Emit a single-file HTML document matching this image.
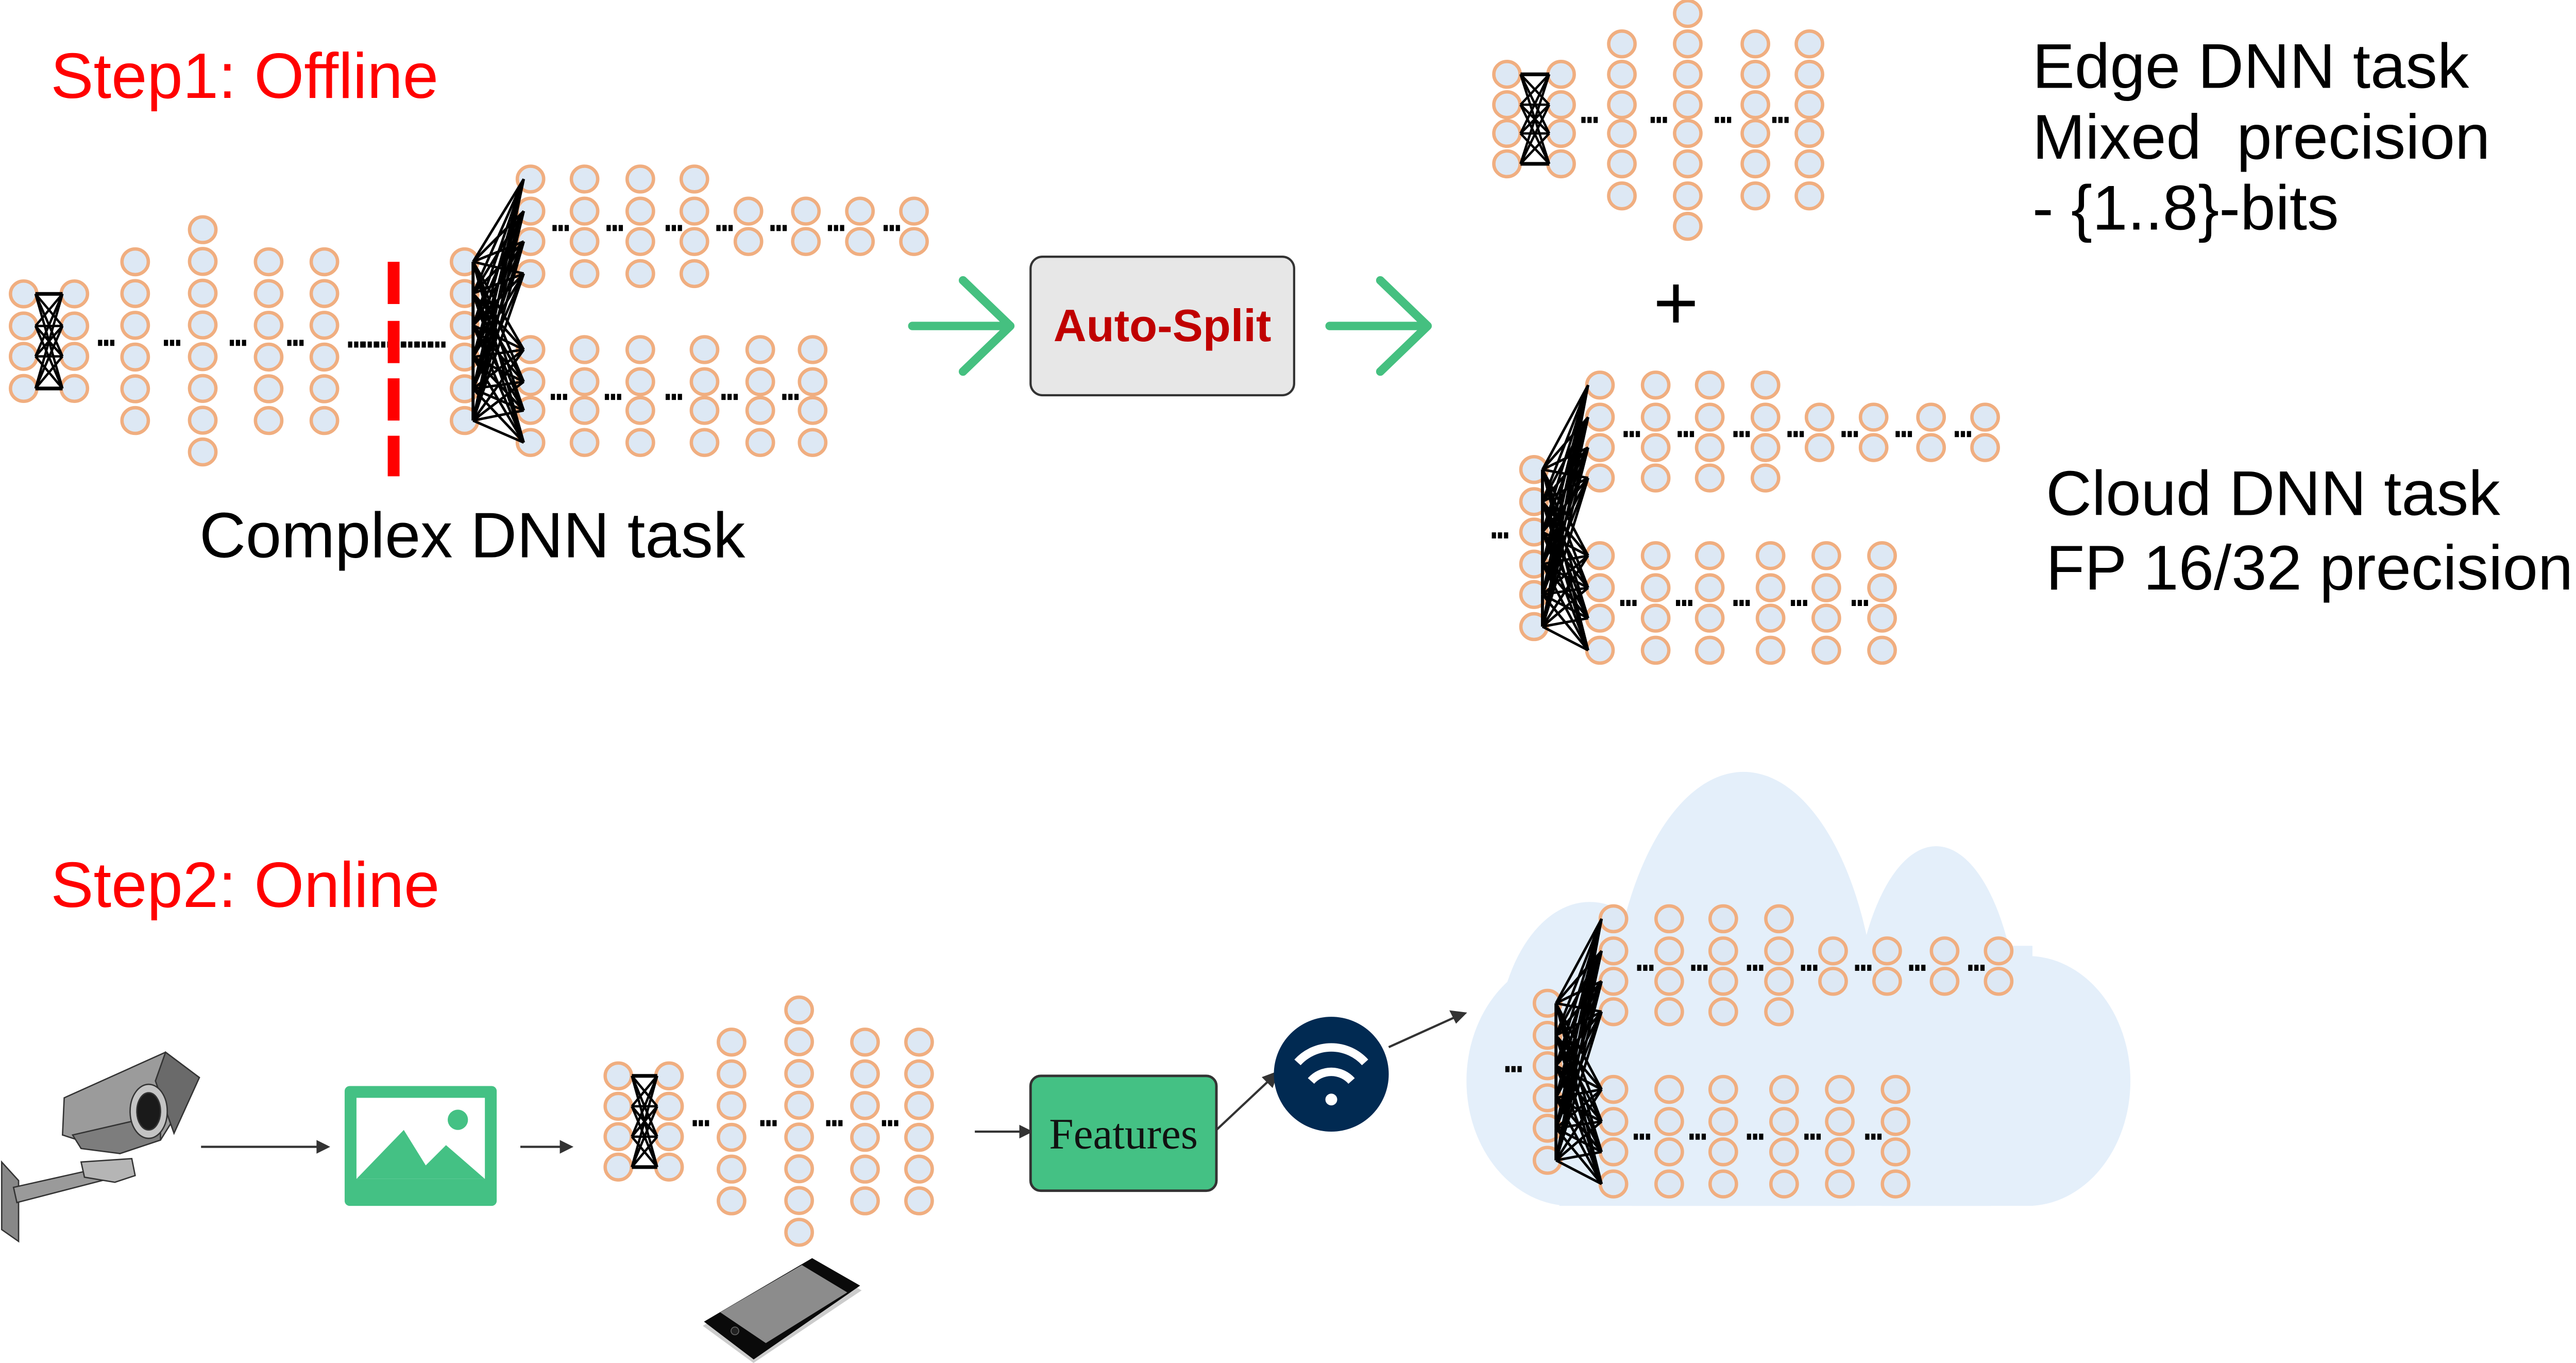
<!DOCTYPE html>
<html><head><meta charset="utf-8">
<style>
html,body{margin:0;padding:0;background:#fff;}
svg{display:block;}
text{font-family:"Liberation Sans",sans-serif;}
</style></head>
<body>
<svg id="s" xmlns="http://www.w3.org/2000/svg" width="5132" height="2645" viewBox="0 0 1565 807" preserveAspectRatio="none">
<defs><clipPath id="cc"><rect x="0" y="0" width="1565" height="714"/></clipPath></defs>
<rect width="1565" height="807" fill="#fff"/>
<g fill="#E4EFFA" clip-path="url(#cc)">
<ellipse cx="1032" cy="622" rx="80" ry="165"/>
<ellipse cx="1146" cy="622" rx="50" ry="121"/>
<ellipse cx="1200" cy="640" rx="61" ry="74"/>
<ellipse cx="930" cy="640" rx="62" ry="74"/>
<ellipse cx="941" cy="622" rx="55" ry="88"/>
<rect x="923" y="560" width="280" height="154"/>
</g>
<g id="nets"></g>
<g fill="#FF0000">
<rect x="229.5" y="155" width="7" height="25"/>
<rect x="229.5" y="190" width="7" height="25"/>
<rect x="229.5" y="224" width="7" height="25"/>
<rect x="229.5" y="258" width="7" height="24"/>
</g>
<text x="30" y="58" font-size="38" fill="#FF0000">Step1: Offline</text>
<text x="30" y="537" font-size="38" fill="#FF0000">Step2: Online</text>
<text x="118" y="330" font-size="38" fill="#000">Complex DNN task</text>
<text x="1203" y="52" font-size="37.5" fill="#000">Edge DNN task</text>
<text x="1203" y="94" font-size="37.5" fill="#000" xml:space="preserve">Mixed  precision</text>
<text x="1203" y="136" font-size="37.5" fill="#000">- {1..8}-bits</text>
<text x="1211" y="305" font-size="37.5" fill="#000">Cloud DNN task</text>
<text x="1211" y="349" font-size="37.5" fill="#000">FP 16/32 precision</text>
<text x="992" y="195" font-size="46" fill="#000" text-anchor="middle">+</text>
<g stroke="#45C080" stroke-width="5" stroke-linecap="round" fill="none" stroke-linejoin="round">
<line x1="540" y1="193" x2="597" y2="193"/>
<polyline points="570,166 598,193 570,220"/>
<line x1="787" y1="193" x2="844" y2="193"/>
<polyline points="817,166 845,193 817,220"/>
</g>
<rect x="610" y="152" width="156" height="82" rx="7" fill="#E7E7E7" stroke="#333" stroke-width="1.3"/>
<text x="688" y="202" font-size="27" font-weight="bold" fill="#C00000" text-anchor="middle">Auto-Split</text>
<g stroke="#333" stroke-width="0.8">
<polygon points="1,688 11,699 11,735 1,728" fill="#888"/>
<polygon points="8,703 66,690 68,697 10,712" fill="#9a9a9a"/>
<polygon points="48,688 78,686 80,696 68,700 50,697" fill="#b5b5b5"/>
<polygon points="38,650 98,623 118,638 95,675 71,683 37,672" fill="#9b9b9b"/>
<polygon points="43,672 95,660 95,675 71,683 48,680" fill="#7d7d7d"/>
<polygon points="98,623 118,638 103,671 92,640" fill="#6a6a6a"/>
<ellipse cx="88" cy="658" rx="11" ry="16" fill="#c4c4c4"/>
<ellipse cx="88" cy="658" rx="7" ry="11" fill="#1a1a1a"/>
</g>
<g stroke="#333" stroke-width="1.3" fill="#333">
<line x1="119" y1="679" x2="192" y2="679"/><polygon points="194,679 188,676 188,682"/>
<line x1="308" y1="679" x2="335" y2="679"/><polygon points="338,679 332,676 332,682"/>
<line x1="577" y1="670" x2="607" y2="670"/><polygon points="610,670 604,667 604,673"/>
<line x1="720" y1="669" x2="753" y2="638"/><polygon points="756,635 748,638 753,643"/>
<line x1="822" y1="620" x2="864" y2="601"/><polygon points="867,600 859,599 862,605"/>
</g>
<rect x="204" y="643" width="90" height="71" rx="3" fill="#44C184"/>
<rect x="211" y="650" width="76" height="48" fill="#fff"/>
<polygon points="211,698 239,669 252,690 264,678 287,698" fill="#44C184"/>
<ellipse cx="271" cy="663" rx="6" ry="6" fill="#44C184"/>
<rect x="610" y="637" width="110" height="68" rx="6" fill="#44C184" stroke="#333" stroke-width="1.5"/>
<text x="665" y="680" font-size="26" fill="#111" text-anchor="middle" style="font-family:'Liberation Serif',serif">Features</text>
<circle cx="788" cy="636" r="34" fill="#012A52"/>
<g fill="none" stroke="#fff" stroke-width="5" stroke-linecap="butt">
<path d="M768,629 A27,27 0 0 1 808,629"/>
<path d="M776,640 A16,16 0 0 1 800,640"/>
</g>
<circle cx="788" cy="651" r="3.5" fill="#fff"/>
<polygon points="416,785 481,747 510,764 446,807" fill="#ccc"/>
<polygon points="416.7,782.5 480.7,744.9 509.1,761.2 446.1,804.9" fill="#0a0a0a"/>
<polygon points="426.3,777 474.6,749 501.5,765.2 453.3,795.2" fill="#8c8c8c"/>
<circle cx="435" cy="788" r="2.3" fill="#222" stroke="#666" stroke-width="0.5"/>
</svg>
<script>
(function(){
var NS='http://www.w3.org/2000/svg';
var g=document.getElementById('nets');
var lines=document.createElementNS(NS,'g');lines.setAttribute('stroke','#000');lines.setAttribute('fill','none');
var nodes=document.createElementNS(NS,'g');
var dots=document.createElementNS(NS,'g');dots.setAttribute('fill','#000');
g.appendChild(nodes);g.appendChild(lines);g.appendChild(dots);
function node(x,y){var e=document.createElementNS(NS,'ellipse');e.setAttribute('cx',x);e.setAttribute('cy',y);e.setAttribute('rx',7.8);e.setAttribute('ry',7.6);e.setAttribute('fill','#DDE8F4');e.setAttribute('stroke','#F0AE80');e.setAttribute('stroke-width',2);nodes.appendChild(e);}
function col(x,ys){ys.forEach(function(y){node(x,y);});}
function line(x1,y1,x2,y2,w){var e=document.createElementNS(NS,'line');e.setAttribute('x1',x1);e.setAttribute('y1',y1);e.setAttribute('x2',x2);e.setAttribute('y2',y2);e.setAttribute('stroke-width',w||1);lines.appendChild(e);}
function dot(x,y){for(var i=0;i<3;i++){var r=document.createElementNS(NS,'rect');r.setAttribute('x',x-5+i*3.6);r.setAttribute('y',y-1.8);r.setAttribute('width',2.5);r.setAttribute('height',3.6);dots.appendChild(r);}}
function rows(s,n,st){var a=[];for(var i=0;i<n;i++)a.push(s+i*st);return a;}
function bowtie(x1,x2,ys){ys.forEach(function(a){ys.forEach(function(b){line(x1,a,x2,b,1.4);});});line(x1,ys[0],x2,ys[0],2.2);line(x1,ys[ys.length-1],x2,ys[ys.length-1],2.2);}
function dense(x1,ys1,x2,ys2){ys1.forEach(function(a){ys2.forEach(function(b){line(x1,a,x2,b,1.5);});});for(var i=0;i<ys1.length-1;i++)line(x1,ys1[i],x1,ys1[i+1],1.8);}
var r4=[174,193,211,230],r6=rows(155,6,18.8),r8=rows(136,8,18.8);
col(14,r4);col(44,r4);col(80,r6);col(120,r8);col(159,r6);col(192,r6);
bowtie(21,37,r4);
[63,102,141,175].forEach(function(x){dot(x,203);});
for(var x=211;x<=261;x+=8)dot(x,204);
col(275,r6);
var tr=[106,125,143,162],br=[207,226,243,262];
[314,346,379,411].forEach(function(x){col(x,tr);});
[443,477,509,541].forEach(function(x){col(x,[125,143]);});
[314,346,379,417,450,481].forEach(function(x){col(x,br);});
dense(280,r6,310,tr.concat(br));
[332,364,399,429,461,495,528].forEach(function(x){dot(x,135);});
[331,363,399,432,468].forEach(function(x){dot(x,235);});
var e4=[44,62,79,97],e6=[26,44,62,79,97,116],e8=[8,26,44,62,79,97,116,134];
col(892,e4);col(924,e4);col(960,e6);col(999,e8);col(1039,e6);col(1071,e6);
bowtie(900,917,e4);
[941,982,1020,1054].forEach(function(x){dot(x,71);});
var b4=[637,655,673,691],b6=rows(617,6,18.8),b8=rows(598,8,18.8);
col(366,b4);col(396,b4);col(433,b6);col(473,b8);col(512,b6);col(544,b6);
bowtie(374,389,b4);
[415,455,494,527].forEach(function(x){dot(x,665);});
function cloudNet(dx,dy){
 var L=[594,613,631,650,668,687].map(function(y){return y+dy;});
 var T=[544,563,581,599].map(function(y){return y+dy;});
 var T2=[563,581].map(function(y){return y+dy;});
 var B=[645,664,682,701].map(function(y){return y+dy;});
 col(916+dx,L);
 [955,988,1020,1053].forEach(function(x){col(x+dx,T);});
 [1085,1117,1151,1183].forEach(function(x){col(x+dx,T2);});
 [955,988,1020,1056,1089,1122].forEach(function(x){col(x+dx,B);});
 dense(921+dx,L,948+dx,T.concat(B));
 [974,1006,1039,1071,1103,1135,1170].forEach(function(x){dot(x+dx,573+dy);});
 [972,1005,1039,1073,1109].forEach(function(x){dot(x+dx,673+dy);});
 dot(896+dx,633+dy);
}
cloudNet(0,0);
cloudNet(-8,-316);
})();
</script>
</body></html>
